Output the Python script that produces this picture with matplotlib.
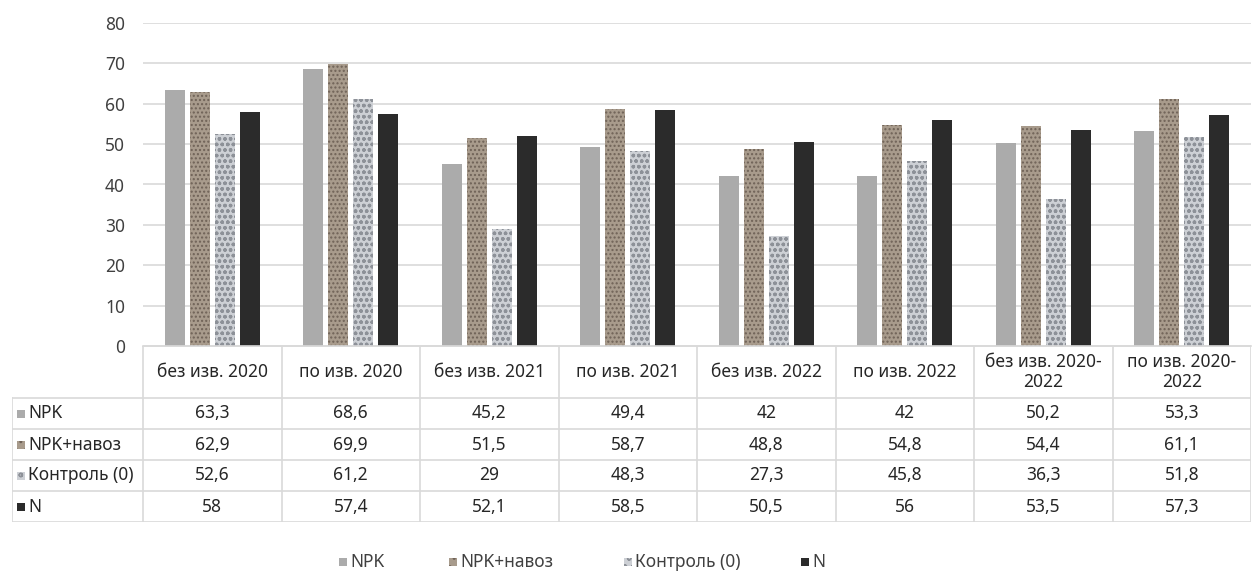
import numpy as np
import matplotlib as mpl
mpl.use('Agg')
import matplotlib.pyplot as plt
from matplotlib.patches import Rectangle

plt.rcParams['font.family'] = ['Noto Sans', 'DejaVu Sans']
plt.rcParams['hatch.linewidth'] = 1.0

categories = ['без изв. 2020', 'по изв. 2020', 'без изв. 2021', 'по изв. 2021',
              'без изв. 2022', 'по изв. 2022', 'без изв. 2020-\n2022', 'по изв. 2020-\n2022']
series = ['NPK', 'NPK+навоз', 'Контроль (0)', 'N']
npk = [63.3, 68.6, 45.2, 49.4, 42, 42, 50.2, 53.3]
npk_manure = [62.9, 69.9, 51.5, 58.7, 48.8, 54.8, 54.4, 61.1]
control = [52.6, 61.2, 29, 48.3, 27.3, 45.8, 36.3, 51.8]
n_only = [58, 57.4, 52.1, 58.5, 50.5, 56, 53.5, 57.3]
yticks = [0, 10, 20, 30, 40, 50, 60, 70, 80]

values = [npk, npk_manure, control, n_only]
faces = ['#ababab', '#a89b8c', '#cdd0d5', '#2b2b2b']
hatches = [None, '....', 'ooo', None]
hcolors = ['#ababab', '#6f6257', '#8d9198', '#2b2b2b']

W, H = 1255, 572
fig = plt.figure(figsize=(W / 100, H / 100), dpi=100)
fs = 12.5

def fx(px):
    return px / W

def fy(py):
    return 1 - py / H

x0, x1 = 143, 1251
ytop, ybase = 23, 346
ax = fig.add_axes([fx(x0), fy(ybase), fx(x1) - fx(x0), fy(ytop) - fy(ybase)])

x = np.arange(len(categories))
step = 0.18
width = 0.145
for i, (vals, fc, ht, hc) in enumerate(zip(values, faces, hatches, hcolors)):
    ax.bar(x + (i - 1.5) * step, vals, width, color=fc, hatch=ht,
           edgecolor=hc, linewidth=0, zorder=2)

ax.set_xlim(-0.5, len(categories) - 0.5)
ax.set_ylim(0, 80)
ax.set_yticks(yticks)
ax.yaxis.grid(True, color='#d9d9d9', linewidth=1.2, zorder=0)
ax.set_axisbelow(True)
ax.tick_params(axis='y', length=0, pad=13, labelsize=fs, labelcolor='#404040')
ax.set_xticks([])
for s in ['top', 'right', 'left']:
    ax.spines[s].set_visible(False)
ax.spines['bottom'].set_color('#d9d9d9')
ax.spines['bottom'].set_linewidth(1.2)

# data table under the chart
ylab = 12
unit = (x1 - x0) / len(categories)
hdr_h, row_h = 52, 31
tab_bottom = ybase + hdr_h + row_h * len(series)
tab = fig.add_axes([fx(ylab), fy(tab_bottom), fx(x1) - fx(ylab), fy(ybase) - fy(tab_bottom)])
left = -0.5 - (x0 - ylab) / unit
tab.set_xlim(left, len(categories) - 0.5)
tab.set_ylim(tab_bottom - ybase, 0)
tab.axis('off')

lc = '#d9d9d9'
lw = 1.2
tab.plot([-0.5, len(categories) - 0.5], [0, 0], color=lc, lw=lw)
for r in range(len(series) + 1):
    yy = hdr_h + r * row_h
    tab.plot([left, len(categories) - 0.5], [yy, yy], color=lc, lw=lw)
for c in range(len(categories) + 1):
    tab.plot([c - 0.5, c - 0.5], [0, tab_bottom - ybase], color=lc, lw=lw)
tab.plot([left, left], [hdr_h, tab_bottom - ybase], color=lc, lw=lw)

for c, cat in enumerate(categories):
    tab.text(c, hdr_h / 2, cat, ha='center', va='center', fontsize=fs,
             color='#262626', linespacing=1.15)

for r, (name, vals, fc, hc) in enumerate(zip(series, values, faces, hcolors)):
    yc = hdr_h + r * row_h + row_h / 2
    tab.add_patch(Rectangle((left + 5 / unit, yc - 4), 8 / unit, 8,
                            facecolor=fc, edgecolor=hc, linewidth=0,
                            hatch=hatches[r] and hatches[r][:2]))
    tab.text(left + 16 / unit, yc, name, ha='left', va='center', fontsize=fs,
             color='#262626')
    for c, v in enumerate(vals):
        tab.text(c, yc, f'{v:g}'.replace('.', ','), ha='center', va='center',
                 fontsize=fs, color='#262626')

# legend row at the bottom
leg_x = [339, 449, 624, 801]
leg_y = 562
for px, name, fc, hc, ht in zip(leg_x, series, faces, hcolors, hatches):
    fig.patches.append(Rectangle((fx(px), fy(leg_y + 4)), 8 / W, 8 / H,
                                 facecolor=fc, edgecolor=hc, linewidth=0,
                                 hatch=ht and ht[:2], transform=fig.transFigure,
                                 figure=fig))
    fig.text(fx(px + 11), fy(leg_y), name, ha='left', va='center',
             fontsize=fs, color='#404040')

fig.savefig('out.png', dpi=100)
plt.close()
